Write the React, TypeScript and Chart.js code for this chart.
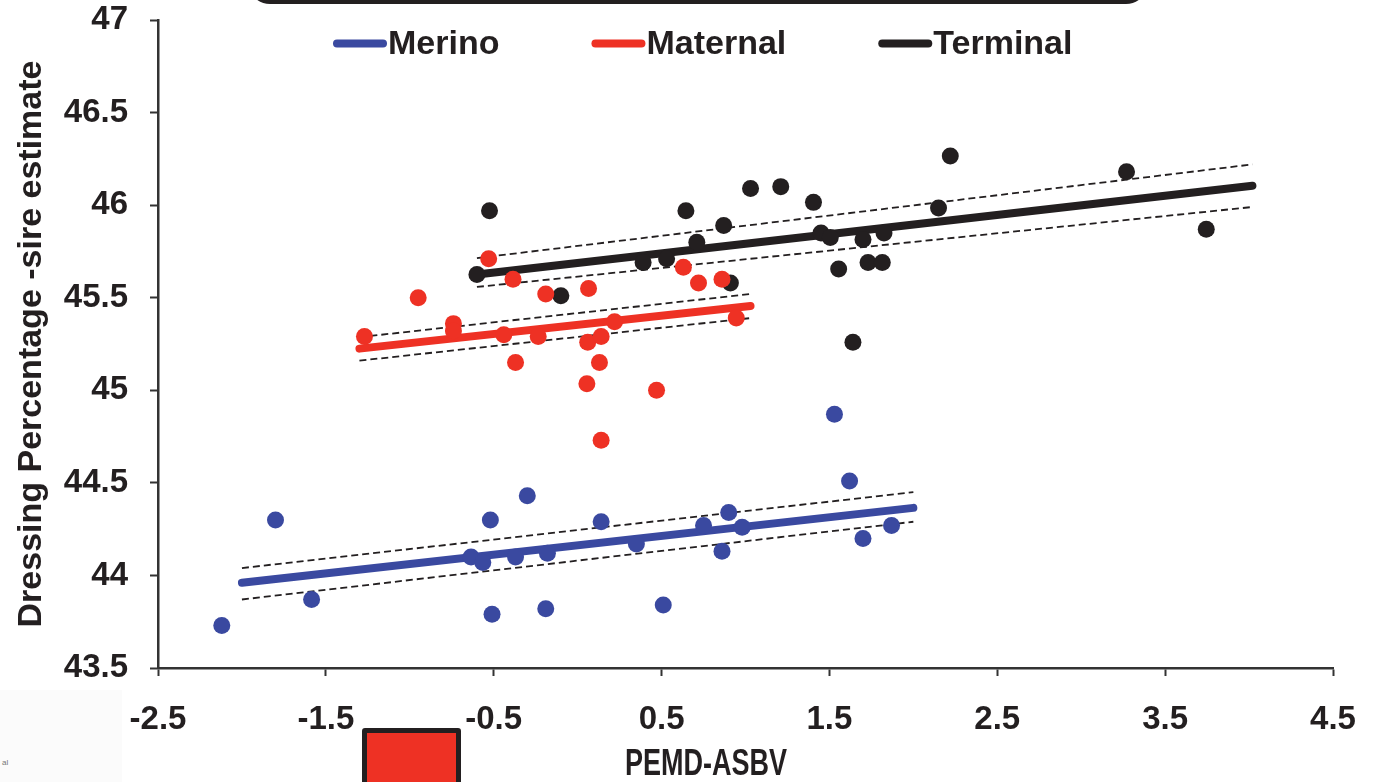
import React, { useEffect, useRef } from "react";
import { Chart, registerables } from "chart.js";

Chart.register(...registerables);

// ---- Data ----
const seriesNames = ["Merino", "Maternal", "Terminal"];
const seriesColors = ["#3a49a0", "#ee3124", "#231f20"];

const xTicks = [-2.5, -1.5, -0.5, 0.5, 1.5, 2.5, 3.5, 4.5];
const yTicks = [43.5, 44, 44.5, 45, 45.5, 46, 46.5, 47];

const merinoX = [-2.12, -1.8, -1.585, -0.635, -0.565, -0.52, -0.51, -0.37, -0.3, -0.19, -0.18, 0.14, 0.35, 0.51, 0.75, 0.86, 0.9, 0.98, 1.53, 1.62, 1.7, 1.87];
const merinoY = [43.73, 44.3, 43.87, 44.1, 44.07, 44.3, 43.79, 44.1, 44.43, 43.82, 44.12, 44.29, 44.17, 43.84, 44.27, 44.13, 44.34, 44.26, 44.87, 44.51, 44.2, 44.27];

const maternalX = [-1.27, -0.95, -0.74, -0.74, -0.53, -0.44, -0.385, -0.37, -0.235, -0.19, 0.065, 0.06, 0.055, 0.14, 0.13, 0.14, 0.22, 0.47, 0.63, 0.72, 0.86, 0.945];
const maternalY = [45.29, 45.5, 45.36, 45.32, 45.71, 45.3, 45.6, 45.15, 45.29, 45.52, 45.55, 45.26, 45.035, 45.29, 45.15, 44.73, 45.37, 45.0, 45.665, 45.58, 45.6, 45.39];

const terminalX = [-0.6, -0.525, -0.1, 0.39, 0.53, 0.645, 0.71, 0.87, 0.91, 1.03, 1.21, 1.405, 1.45, 1.505, 1.555, 1.64, 1.7, 1.73, 1.815, 1.825, 2.15, 2.22, 3.27, 3.745];
const terminalY = [45.625, 45.97, 45.51, 45.69, 45.71, 45.97, 45.8, 45.89, 45.58, 46.09, 46.1, 46.015, 45.85, 45.825, 45.655, 45.26, 45.815, 45.69, 45.69, 45.85, 45.985, 46.265, 46.18, 45.87];

// regression fits and confidence bands (endpoints)
const merinoFitX = [-2.0, 2.0];
const merinoFitY = [43.96, 44.365];
const merinoUpperY = [44.04, 44.45];
const merinoLowerY = [43.87, 44.29];

const maternalFitX = [-1.3, 1.03];
const maternalFitY = [45.225, 45.455];
const maternalUpperY = [45.287, 45.52];
const maternalLowerY = [45.16, 45.39];

const terminalFitX = [-0.6, 4.02];
const terminalFitY = [45.625, 46.105];
const terminalUpperY = [45.714, 46.22];
const terminalLowerY = [45.558, 45.99];

const xTitle = "PEMD-ASBV";
const yTitle = "Dressing Percentage -sire estimate";

const FONT = '"Liberation Sans", Arial, Helvetica, sans-serif';
const INK = "#231f20";

const pts = (xs: number[], ys: number[]) => xs.map((x, i) => ({ x, y: ys[i] }));

const legendPlugin = {
  id: "customLegend",
  afterDraw(chart: any) {
    const ctx = chart.ctx;
    ctx.save();
    ctx.font = `bold 34px ${FONT}`;
    ctx.textBaseline = "middle";
    ctx.textAlign = "left";
    let x = 337;
    const y = 43.5;
    seriesNames.forEach((name, i) => {
      ctx.strokeStyle = seriesColors[i];
      ctx.lineWidth = 8;
      ctx.lineCap = "round";
      ctx.beginPath();
      ctx.moveTo(x, y);
      ctx.lineTo(x + 46, y);
      ctx.stroke();
      ctx.fillStyle = INK;
      ctx.fillText(name, x + 51, y + 1);
      x += 51 + ctx.measureText(name).width + 96;
    });
    ctx.restore();

    // x-axis title: condensed lettering, sitting left of the plot centre
    ctx.save();
    ctx.font = `bold 36px ${FONT}`;
    ctx.textAlign = "center";
    ctx.textBaseline = "middle";
    ctx.fillStyle = INK;
    ctx.translate(706, 765);
    ctx.scale(0.75, 1);
    ctx.fillText(xTitle, 0, 0);
    ctx.restore();
  },
};

export default function App() {
  const canvasRef = useRef<HTMLCanvasElement | null>(null);

  useEffect(() => {
    const canvas = canvasRef.current;
    if (!canvas) return;

    const scatter = (i: number, xs: number[], ys: number[]) => ({
      type: "scatter" as const,
      label: seriesNames[i],
      data: pts(xs, ys),
      backgroundColor: seriesColors[i],
      borderWidth: 0,
      pointRadius: 8.5,
      pointHoverRadius: 8.5,
      showLine: false,
      order: 0,
    });
    const fit = (i: number, xs: number[], ys: number[]) => ({
      type: "line" as const,
      label: seriesNames[i] + " fit",
      data: pts(xs, ys),
      borderColor: seriesColors[i],
      borderWidth: 8,
      borderCapStyle: "round" as const,
      pointRadius: 0,
      fill: false,
      order: 1,
    });
    const band = (label: string, xs: number[], ys: number[]) => ({
      type: "line" as const,
      label,
      data: pts(xs, ys),
      borderColor: INK,
      borderWidth: 1.8,
      borderDash: [7, 4],
      pointRadius: 0,
      fill: false,
      order: 2,
    });

    const chart = new Chart(canvas, {
      type: "scatter",
      data: {
        datasets: [
          scatter(0, merinoX, merinoY),
          scatter(1, maternalX, maternalY),
          scatter(2, terminalX, terminalY),
          fit(0, merinoFitX, merinoFitY),
          fit(1, maternalFitX, maternalFitY),
          fit(2, terminalFitX, terminalFitY),
          band("Merino upper", merinoFitX, merinoUpperY),
          band("Merino lower", merinoFitX, merinoLowerY),
          band("Maternal upper", maternalFitX, maternalUpperY),
          band("Maternal lower", maternalFitX, maternalLowerY),
          band("Terminal upper", terminalFitX, terminalUpperY),
          band("Terminal lower", terminalFitX, terminalLowerY),
        ] as any,
      },
      options: {
        responsive: false,
        animation: false,
        layout: { padding: { left: 0, right: 45, top: 20, bottom: 0 } },
        plugins: {
          legend: { display: false },
          tooltip: { enabled: false },
          title: { display: false },
        },
        scales: {
          x: {
            type: "linear",
            min: -2.5,
            max: 4.5,
            afterBuildTicks: (s: any) => {
              s.ticks = xTicks.map((v) => ({ value: v }));
            },
            afterFit: (s: any) => {
              s.height = 114;
              s.paddingLeft = 0;
              s.paddingRight = 0;
            },
            ticks: {
              color: INK,
              font: { family: FONT, size: 33, weight: "bold" },
              padding: 24,
              maxRotation: 0,
              autoSkip: false,
              callback: (v: any) => String(v),
            },
            grid: {
              drawOnChartArea: false,
              drawTicks: true,
              tickLength: 8,
              tickColor: "#333",
              tickWidth: 2,
            },
            border: { display: true, color: "#333", width: 2.5 },
            title: { display: false },
          },
          y: {
            type: "linear",
            min: 43.5,
            max: 47,
            afterBuildTicks: (s: any) => {
              s.ticks = yTicks.map((v) => ({ value: v }));
            },
            afterFit: (s: any) => {
              s.width = 158;
              s.paddingTop = 0;
              s.paddingBottom = 0;
            },
            ticks: {
              color: INK,
              font: { family: FONT, size: 33, weight: "bold" },
              padding: 22,
              autoSkip: false,
              callback: (v: any) => String(v),
            },
            grid: {
              drawOnChartArea: false,
              drawTicks: true,
              tickLength: 8,
              tickColor: "#333",
              tickWidth: 2,
            },
            border: { display: true, color: "#333", width: 2.5 },
            title: {
              display: true,
              text: yTitle,
              color: INK,
              font: { family: FONT, size: 34, weight: "bold", lineHeight: 1 },
              padding: { top: 15, bottom: 0 },
            },
          },
        },
      },
      plugins: [legendPlugin],
    });

    return () => chart.destroy();
  }, []);

  return (
    <div
      style={{
        position: "fixed",
        left: 0,
        top: 0,
        width: 1378,
        height: 782,
        background: "#ffffff",
        overflow: "hidden",
      }}
    >
      <div
        style={{
          position: "absolute",
          left: 0,
          top: 690,
          width: 122,
          height: 92,
          background: "#fbfbfb",
        }}
      >
        <span
          style={{
            position: "absolute",
            left: 2,
            top: 68,
            fontFamily: FONT,
            fontSize: 8,
            color: "#777",
          }}
        >
          al
        </span>
      </div>
      <canvas
        ref={canvasRef}
        width={1378}
        height={782}
        style={{ position: "absolute", left: 0, top: 0 }}
      />
      <div
        style={{
          position: "absolute",
          left: 248,
          top: -56,
          width: 900,
          height: 60,
          boxSizing: "border-box",
          border: "4px solid #231f20",
          borderRadius: 22,
        }}
      />
      <div
        style={{
          position: "absolute",
          left: 362,
          top: 728,
          width: 99,
          height: 70,
          boxSizing: "border-box",
          border: "5px solid #231f20",
          borderRadius: 3,
          background: "#ee3124",
        }}
      />
    </div>
  );
}
